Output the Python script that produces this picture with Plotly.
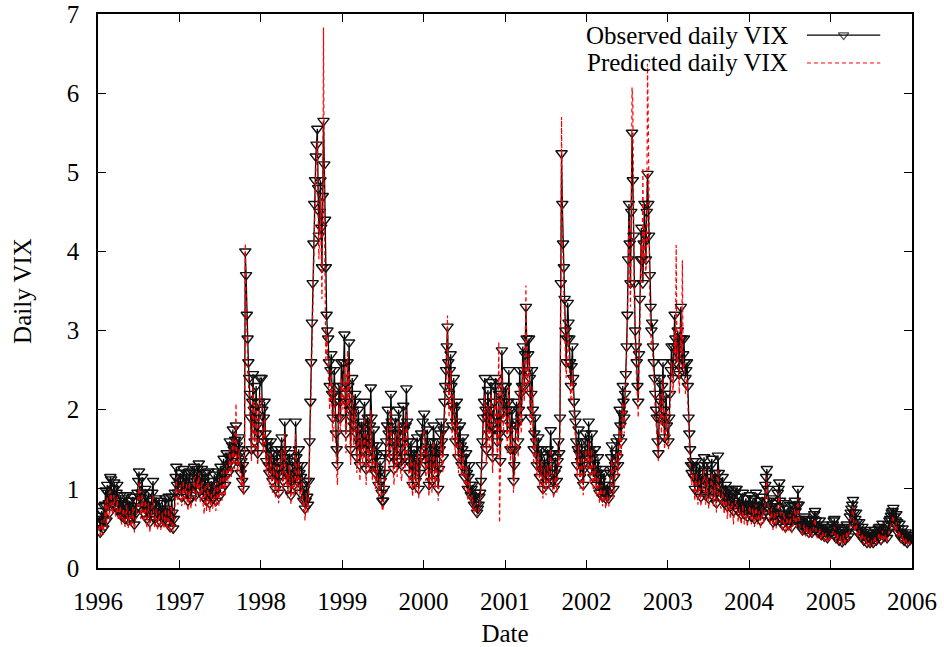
import pandas as pd
import plotly.graph_objects as go

# Observed daily VIX, read twice a week, one list per calendar year
observed_1996 = [0.58, 0.66, 0.45, 0.55, 0.72, 0.62, 0.5, 0.78, 0.8, 0.98,
                 0.6, 1.05, 0.95, 0.82, 0.7, 1.15, 1.12, 0.9, 0.8, 1.0,
                 1.08, 0.85, 0.78, 0.95, 1.05, 0.75, 0.72, 0.85, 0.92, 0.7,
                 0.65, 0.82, 0.88, 0.68, 0.62, 0.8, 0.92, 0.72, 0.6, 0.75,
                 0.85, 0.65, 0.62, 0.78, 0.9, 0.7, 0.55, 0.68, 0.75, 0.85,
                 0.95, 1.1, 1.22, 0.9, 0.75, 0.95, 1.15, 0.85, 0.7, 0.8,
                 1.0, 0.75, 0.62, 0.78, 0.95, 0.7, 0.58, 0.72, 0.85, 0.95,
                 1.1, 0.8, 0.62, 0.75, 0.88, 0.7, 0.58, 0.72, 0.85, 0.68,
                 0.58, 0.7, 0.82, 0.65, 0.6, 0.75, 0.88, 0.7, 0.58, 0.72,
                 0.9, 0.65, 0.52, 0.62, 0.9, 0.7, 0.5, 0.62, 0.95, 1.15,
                 1.28, 1.05, 0.95, 1.1]
observed_1997 = [1.2, 1.0, 0.9, 1.1, 1.25, 1.05, 0.95, 1.15, 1.2, 0.98,
                 0.85, 1.05, 1.22, 1.0, 0.88, 1.05, 1.1, 1.2, 1.28, 1.05,
                 0.92, 1.1, 1.25, 1.15, 1.32, 1.1, 0.98, 1.15, 1.25, 1.0,
                 0.9, 1.1, 1.2, 0.95, 0.85, 1.0, 1.22, 1.02, 0.82, 0.95,
                 1.1, 0.95, 0.88, 1.05, 1.18, 0.95, 0.85, 1.0, 1.22, 1.05,
                 0.9, 1.12, 1.28, 1.1, 1.0, 1.2, 1.38, 1.15, 1.05, 1.25,
                 1.45, 1.3, 1.2, 1.4, 1.6, 1.42, 1.3, 1.55, 1.75, 1.5,
                 1.4, 1.62, 1.8, 1.55, 1.35, 1.5, 1.65, 1.45, 1.2, 1.35,
                 1.1, 1.3, 1.0, 1.45, 4.0, 3.7, 3.2, 2.9, 2.6, 2.4,
                 2.2, 1.9, 1.5, 2.1, 2.45, 2.0, 1.6, 1.9, 2.3, 1.8,
                 1.45, 1.7, 2.1, 2.4]
observed_1998 = [2.4, 2.0, 1.6, 1.9, 2.1, 1.7, 1.35, 1.6, 1.55, 1.3,
                 1.2, 1.45, 1.6, 1.3, 1.1, 1.35, 1.45, 1.2, 1.0, 1.25,
                 1.5, 1.2, 0.95, 1.15, 1.35, 1.5, 1.65, 1.3, 1.1, 1.4,
                 1.85, 1.5, 1.2, 1.35, 1.0, 1.2, 1.45, 1.15, 0.92, 1.1,
                 1.35, 1.15, 1.05, 1.3, 1.85, 1.4, 1.1, 1.3, 1.5, 1.2,
                 0.95, 1.15, 1.3, 1.05, 0.85, 1.0, 0.75, 0.85, 1.1, 0.9,
                 0.8, 1.1, 1.6, 2.1, 2.6, 3.1, 3.6, 4.1, 4.6, 4.9,
                 5.2, 5.35, 5.55, 4.8, 4.2, 4.5, 4.9, 4.3, 3.8, 4.7,
                 5.65, 5.1, 4.4, 3.8, 3.2, 3.0, 2.9, 2.6, 2.3, 2.5,
                 2.7, 2.2, 1.9, 2.2, 2.5, 2.1, 1.7, 1.5, 1.3, 1.9,
                 2.3, 2.1, 1.9, 2.6]
observed_1999 = [2.3, 2.6, 2.95, 2.2, 1.7, 2.1, 2.6, 2.3, 2.85, 2.0,
                 1.5, 1.9, 2.4, 2.0, 1.8, 2.1, 2.2, 1.7, 1.4, 1.75,
                 2.0, 1.6, 1.3, 1.55, 1.85, 1.6, 1.5, 1.8, 2.1, 1.7,
                 1.25, 1.55, 1.9, 1.65, 1.4, 1.8, 2.28, 1.9, 1.3, 1.55,
                 1.75, 1.45, 1.2, 1.4, 1.55, 1.25, 1.05, 1.2, 1.35, 1.1,
                 0.95, 0.85, 0.85, 1.0, 1.2, 1.45, 1.6, 1.8, 2.0, 1.7,
                 1.4, 1.75, 2.2, 1.85, 1.6, 1.4, 1.25, 1.55, 1.9, 1.6,
                 1.35, 1.7, 2.0, 1.75, 1.5, 1.35, 1.3, 1.6, 2.05, 1.75,
                 1.4, 1.8, 2.27, 1.85, 1.6, 1.35, 1.2, 1.45, 1.6, 1.3,
                 1.05, 1.3, 1.5, 1.25, 1.1, 1.4, 1.65, 1.35, 1.0, 1.2,
                 1.4, 1.7, 1.5, 1.85]
observed_2000 = [1.95, 1.6, 1.3, 1.5, 1.75, 1.4, 1.05, 1.3, 1.6, 1.35,
                 1.1, 1.4, 1.8, 1.5, 1.2, 1.45, 1.6, 1.3, 1.0, 1.25,
                 1.5, 1.7, 1.85, 1.6, 1.4, 1.75, 2.1, 2.3, 2.5, 2.8,
                 3.05, 2.6, 2.2, 2.5, 2.7, 2.3, 1.8, 2.05, 2.4, 2.0,
                 1.6, 1.85, 2.1, 1.75, 1.4, 1.6, 1.8, 1.55, 1.3, 1.5,
                 1.65, 1.4, 1.15, 1.3, 1.45, 1.2, 1.0, 1.15, 1.3, 1.05,
                 0.92, 1.0, 1.05, 0.88, 0.8, 0.9, 0.95, 0.8, 0.7, 0.75,
                 0.8, 0.9, 0.95, 1.1, 1.3, 1.6, 1.9, 2.1, 2.4, 2.0,
                 1.5, 1.9, 2.25, 1.95, 1.7, 2.0, 2.35, 1.8, 1.4, 1.75,
                 2.1, 2.3, 2.4, 1.9, 1.6, 1.9, 2.2, 1.7, 1.35, 2.2,
                 2.75, 2.3, 1.9, 2.1]
observed_2001 = [2.3, 2.0, 1.7, 2.1, 2.5, 2.0, 1.5, 1.8, 2.0, 1.5,
                 1.1, 1.3, 1.5, 1.8, 2.1, 1.85, 1.6, 2.0, 2.5, 2.2,
                 1.9, 2.3, 2.8, 2.5, 2.3, 2.7, 3.3, 2.9, 2.5, 2.7,
                 2.9, 2.4, 1.9, 2.2, 2.5, 2.0, 1.5, 1.7, 1.9, 1.6,
                 1.3, 1.5, 1.65, 1.4, 1.15, 1.3, 1.5, 1.25, 1.0, 1.2,
                 1.4, 1.2, 1.05, 1.25, 1.5, 1.3, 1.15, 1.45, 1.74, 1.45,
                 1.2, 1.1, 1.0, 1.2, 1.4, 1.25, 1.1, 1.35, 1.6, 1.45,
                 1.9, 3.6, 5.24, 4.6, 4.1, 3.8, 3.4, 3.0, 2.6, 2.9,
                 3.35, 3.1, 2.9, 2.6, 2.3, 2.55, 2.8, 2.4, 2.1, 1.95,
                 1.85, 1.6, 1.3, 1.5, 1.75, 1.45, 1.15, 1.35, 1.6, 1.3,
                 1.05, 1.25, 1.45, 1.7]
observed_2002 = [1.6, 1.4, 1.85, 1.5, 1.25, 1.45, 1.7, 1.4, 1.15, 1.3,
                 1.5, 1.25, 1.05, 1.2, 1.4, 1.15, 0.95, 1.1, 1.25, 1.0,
                 0.9, 1.05, 1.2, 0.98, 0.88, 0.95, 1.05, 0.92, 0.88, 1.0,
                 1.2, 1.4, 1.55, 1.25, 1.0, 1.15, 1.3, 1.45, 1.6, 1.4,
                 1.3, 1.65, 2.0, 1.8, 1.6, 1.95, 2.3, 2.1, 1.9, 2.2,
                 2.45, 2.8, 3.2, 3.9, 4.6, 4.1, 3.6, 4.5, 5.5, 4.9,
                 4.2, 3.6, 3.0, 2.8, 2.6, 2.3, 2.1, 2.7, 3.4, 3.9,
                 4.3, 3.9, 3.6, 4.1, 4.6, 4.2, 3.9, 4.5, 4.98, 4.6,
                 4.2, 3.7, 3.3, 3.0, 3.1, 2.8, 2.6, 2.4, 2.2, 2.0,
                 1.9, 1.6, 1.45, 1.9, 2.4, 2.1, 1.9, 2.3, 2.6, 2.0,
                 1.65, 1.9, 2.2, 1.8]
observed_2003 = [1.6, 1.9, 2.2, 2.5, 2.8, 2.6, 2.4, 2.8, 3.2, 2.9,
                 2.6, 2.8, 3.0, 2.7, 2.45, 2.9, 3.3, 2.9, 2.5, 2.7,
                 2.9, 2.6, 2.4, 2.5, 2.6, 2.3, 1.9, 1.7, 1.5, 1.3,
                 1.2, 1.3, 1.35, 1.15, 1.0, 1.2, 1.35, 1.1, 0.95, 1.15,
                 1.3, 1.1, 0.9, 1.05, 1.2, 1.3, 1.4, 1.1, 0.92, 1.1,
                 1.3, 1.05, 0.88, 1.0, 1.15, 1.3, 1.38, 1.1, 0.9, 1.05,
                 1.2, 1.0, 0.82, 1.1, 1.42, 1.2, 1.0, 0.9, 0.88, 1.0,
                 1.15, 0.95, 0.82, 0.95, 1.05, 0.9, 0.78, 0.9, 1.0, 0.85,
                 0.78, 0.9, 0.98, 0.82, 0.72, 0.85, 0.95, 1.0, 1.0, 0.82,
                 0.72, 0.8, 0.9, 0.78, 0.68, 0.8, 0.95, 0.8, 0.68, 0.78,
                 0.88, 0.75, 0.65, 0.8]
observed_2004 = [0.92, 0.78, 0.65, 0.75, 0.88, 0.72, 0.62, 0.78, 0.95, 0.8,
                 0.65, 0.72, 0.85, 0.7, 0.6, 0.75, 0.9, 0.78, 0.68, 0.85,
                 1.05, 1.15, 1.25, 1.0, 0.85, 0.75, 0.65, 0.78, 0.88, 0.7,
                 0.58, 0.7, 0.82, 0.68, 0.6, 0.78, 0.95, 1.0, 1.08, 0.85,
                 0.7, 0.62, 0.55, 0.68, 0.82, 0.65, 0.52, 0.62, 0.75, 0.62,
                 0.55, 0.68, 0.8, 0.65, 0.52, 0.6, 0.72, 0.78, 0.85, 0.72,
                 0.62, 0.8, 1.0, 0.8, 0.62, 0.58, 0.55, 0.5, 0.48, 0.56,
                 0.65, 0.55, 0.48, 0.55, 0.62, 0.52, 0.45, 0.52, 0.6, 0.5,
                 0.45, 0.55, 0.62, 0.68, 0.72, 0.6, 0.5, 0.46, 0.45, 0.52,
                 0.6, 0.5, 0.42, 0.48, 0.55, 0.46, 0.4, 0.46, 0.52, 0.44,
                 0.38, 0.42, 0.48, 0.44]
observed_2005 = [0.45, 0.5, 0.55, 0.6, 0.62, 0.5, 0.38, 0.45, 0.52, 0.42,
                 0.35, 0.42, 0.48, 0.4, 0.33, 0.42, 0.5, 0.42, 0.36, 0.45,
                 0.55, 0.46, 0.4, 0.52, 0.65, 0.7, 0.75, 0.8, 0.86, 0.7,
                 0.55, 0.62, 0.7, 0.58, 0.45, 0.52, 0.58, 0.48, 0.4, 0.46,
                 0.52, 0.42, 0.35, 0.42, 0.48, 0.4, 0.32, 0.38, 0.45, 0.38,
                 0.32, 0.36, 0.42, 0.36, 0.32, 0.4, 0.48, 0.4, 0.35, 0.4,
                 0.45, 0.5, 0.52, 0.44, 0.36, 0.46, 0.56, 0.48, 0.4, 0.45,
                 0.5, 0.44, 0.38, 0.46, 0.55, 0.6, 0.62, 0.66, 0.7, 0.72,
                 0.76, 0.65, 0.55, 0.6, 0.68, 0.58, 0.45, 0.5, 0.56, 0.46,
                 0.38, 0.44, 0.5, 0.42, 0.35, 0.4, 0.45, 0.38, 0.32, 0.38,
                 0.42, 0.38, 0.36, 0.4]

# Predicted daily VIX, read twice a week, one list per calendar year
predicted_1996 = [0.48, 0.55, 0.38, 0.45, 0.6, 0.52, 0.42, 0.65, 0.68, 0.85,
                  0.5, 0.9, 0.82, 0.7, 0.6, 0.98, 0.95, 0.75, 0.68, 0.85,
                  0.92, 0.72, 0.65, 0.8, 0.9, 0.62, 0.6, 0.72, 0.78, 0.58,
                  0.55, 0.7, 0.75, 0.56, 0.52, 0.68, 0.8, 0.6, 0.5, 0.62,
                  0.72, 0.55, 0.52, 0.66, 0.78, 0.58, 0.45, 0.56, 0.62, 0.72,
                  0.8, 0.95, 1.1, 0.75, 0.62, 0.8, 0.98, 0.7, 0.58, 0.68,
                  0.85, 0.62, 0.5, 0.65, 0.82, 0.58, 0.45, 0.6, 0.72, 0.8,
                  0.92, 0.65, 0.5, 0.62, 0.75, 0.58, 0.48, 0.6, 0.72, 0.55,
                  0.48, 0.58, 0.7, 0.52, 0.5, 0.62, 0.75, 0.58, 0.48, 0.6,
                  0.78, 0.52, 0.45, 0.52, 0.78, 0.58, 0.45, 0.52, 0.82, 1.0,
                  1.15, 0.9, 0.8, 0.95]
predicted_1997 = [1.05, 0.85, 0.78, 0.95, 1.1, 0.9, 0.8, 1.0, 1.05, 0.82,
                  0.72, 0.9, 1.08, 0.85, 0.75, 0.9, 0.95, 1.05, 1.15, 0.9,
                  0.78, 0.95, 1.1, 1.0, 1.2, 0.95, 0.82, 1.0, 1.1, 0.85,
                  0.75, 0.68, 1.05, 0.8, 0.72, 0.85, 1.08, 0.88, 0.7, 0.8,
                  0.95, 0.8, 0.75, 0.9, 1.05, 0.8, 0.72, 0.85, 1.08, 0.9,
                  0.78, 0.98, 1.15, 0.95, 0.85, 1.05, 1.25, 1.0, 0.9, 1.1,
                  1.3, 1.15, 1.05, 1.25, 1.5, 1.3, 1.15, 1.4, 1.65, 1.35,
                  1.25, 1.5, 2.08, 1.4, 1.2, 1.35, 1.5, 1.3, 1.05, 1.2,
                  0.98, 1.15, 0.92, 1.3, 4.1, 3.4, 2.9, 2.6, 2.35, 2.15,
                  1.95, 1.7, 1.35, 1.9, 2.3, 1.8, 1.45, 1.7, 2.1, 1.6,
                  1.3, 1.5, 1.95, 2.2]
predicted_1998 = [2.2, 1.8, 1.45, 1.7, 1.9, 1.5, 1.2, 1.45, 1.4, 1.15,
                  1.05, 1.3, 1.45, 1.15, 0.95, 1.2, 1.3, 1.05, 0.88, 1.1,
                  1.35, 1.05, 0.82, 1.0, 1.2, 1.35, 1.5, 1.15, 0.95, 1.25,
                  1.7, 1.35, 1.05, 1.2, 0.88, 1.05, 1.3, 1.0, 0.8, 0.95,
                  1.2, 1.0, 0.9, 1.15, 1.7, 1.25, 0.95, 1.15, 1.35, 1.05,
                  0.82, 1.0, 1.15, 0.9, 0.72, 0.85, 0.6, 0.72, 0.95, 0.78,
                  0.7, 0.95, 1.45, 1.9, 2.4, 2.9, 3.3, 3.8, 4.4, 4.7,
                  5.0, 5.2, 5.4, 4.5, 3.9, 4.2, 4.7, 4.0, 3.4, 4.5,
                  6.83, 4.6, 3.9, 2.6, 3.0, 2.7, 2.5, 2.3, 2.0, 2.3,
                  2.5, 1.95, 1.6, 2.0, 2.3, 1.85, 1.45, 1.2, 1.05, 1.7,
                  2.1, 1.85, 1.7, 2.4]
predicted_1999 = [2.0, 2.4, 2.6, 1.95, 1.45, 1.85, 2.75, 2.05, 2.5, 1.8,
                  1.3, 1.7, 2.2, 1.8, 1.55, 1.9, 2.0, 1.5, 1.2, 1.55,
                  1.8, 1.4, 1.1, 1.35, 1.65, 1.4, 1.3, 1.6, 1.9, 1.5,
                  1.05, 1.35, 1.7, 1.45, 1.2, 1.6, 2.0, 1.7, 1.1, 1.35,
                  1.55, 1.25, 1.0, 1.2, 1.35, 1.05, 0.9, 1.05, 1.15, 0.95,
                  0.8, 0.72, 0.75, 0.88, 1.05, 1.3, 1.4, 1.6, 1.8, 1.5,
                  1.2, 1.55, 2.0, 1.65, 1.4, 1.2, 1.05, 1.35, 1.7, 1.4,
                  1.15, 1.5, 1.85, 1.55, 1.3, 1.15, 1.1, 1.4, 1.8, 1.55,
                  1.2, 1.6, 2.0, 1.65, 1.4, 1.15, 1.0, 1.25, 1.4, 1.1,
                  0.9, 1.1, 1.35, 1.05, 0.95, 1.2, 1.45, 1.15, 0.88, 1.05,
                  1.25, 1.5, 1.3, 1.65]
predicted_2000 = [1.75, 1.4, 1.1, 1.3, 1.55, 1.2, 0.9, 1.1, 1.4, 1.15,
                  0.95, 1.2, 1.6, 1.3, 1.0, 1.25, 1.4, 1.1, 0.85, 1.05,
                  1.35, 1.5, 1.7, 1.4, 1.2, 1.55, 1.9, 2.1, 2.3, 2.6,
                  3.19, 2.4, 1.9, 2.3, 2.5, 2.0, 1.6, 1.85, 2.2, 1.8,
                  1.4, 1.65, 1.9, 1.55, 1.2, 1.4, 1.6, 1.35, 1.15, 1.3,
                  1.45, 1.2, 1.0, 1.15, 1.3, 1.05, 0.85, 1.0, 1.15, 0.9,
                  0.8, 0.88, 0.92, 0.75, 0.7, 0.78, 0.82, 0.7, 0.65, 0.68,
                  0.72, 0.8, 0.85, 0.98, 1.15, 1.45, 1.7, 1.9, 2.2, 1.8,
                  1.3, 1.7, 2.05, 1.75, 1.5, 1.8, 2.2, 1.6, 1.2, 1.55,
                  1.9, 2.1, 2.2, 1.7, 1.4, 1.7, 2.86, 0.57, 1.2, 2.0,
                  2.5, 2.1, 1.7, 1.9]
predicted_2001 = [2.0, 1.8, 1.45, 1.9, 2.3, 1.8, 1.3, 1.6, 1.8, 1.3,
                  0.95, 1.15, 1.3, 1.6, 1.9, 1.65, 1.4, 1.8, 2.3, 2.0,
                  1.7, 2.1, 2.6, 2.2, 2.1, 2.5, 3.57, 2.6, 2.2, 2.5,
                  2.7, 2.2, 1.7, 2.0, 2.3, 1.8, 1.3, 1.5, 1.7, 1.4,
                  1.15, 1.3, 1.45, 1.2, 1.0, 1.15, 1.35, 1.1, 0.88, 1.05,
                  1.25, 1.05, 0.92, 1.1, 1.3, 1.15, 1.0, 1.3, 1.5, 1.3,
                  1.05, 0.95, 0.88, 1.05, 1.2, 1.1, 0.95, 1.2, 1.4, 1.3,
                  1.7, 3.3, 5.7, 4.3, 3.8, 3.5, 3.1, 2.7, 2.4, 2.6,
                  3.1, 2.8, 2.6, 2.4, 2.1, 2.3, 2.5, 2.2, 1.85, 1.75,
                  1.65, 1.4, 1.15, 1.35, 1.55, 1.3, 1.0, 1.2, 1.4, 1.15,
                  0.92, 1.1, 1.25, 1.5]
predicted_2002 = [1.4, 1.25, 1.6, 1.3, 1.05, 1.3, 1.5, 1.2, 0.98, 1.15,
                  1.3, 1.1, 0.9, 1.05, 1.2, 1.0, 0.82, 0.95, 1.05, 0.85,
                  0.78, 0.9, 1.0, 0.85, 0.75, 0.82, 0.92, 0.8, 0.78, 0.88,
                  1.05, 1.25, 1.4, 1.1, 0.88, 1.0, 1.15, 1.3, 1.45, 1.25,
                  1.15, 1.5, 1.8, 1.6, 1.4, 1.75, 2.1, 1.9, 1.7, 2.0,
                  2.3, 2.6, 3.0, 3.7, 4.4, 3.8, 3.3, 4.3, 6.07, 5.9,
                  4.0, 3.3, 2.8, 2.6, 2.4, 2.1, 1.9, 2.5, 3.2, 3.7,
                  4.1, 3.6, 5.06, 3.9, 4.3, 3.9, 3.7, 4.2, 6.37, 5.6,
                  3.9, 3.4, 3.0, 2.8, 2.9, 2.6, 2.4, 2.2, 2.0, 1.8,
                  1.7, 1.45, 1.35, 1.7, 2.2, 1.9, 1.7, 2.1, 2.4, 1.8,
                  1.5, 1.7, 2.0, 1.65]
predicted_2003 = [1.5, 1.75, 2.0, 2.3, 2.6, 2.4, 2.2, 2.6, 3.0, 2.7,
                  4.08, 2.6, 2.8, 2.5, 2.2, 2.6, 3.1, 2.7, 3.89, 2.5,
                  2.6, 2.4, 2.2, 2.3, 2.4, 2.1, 1.7, 1.5, 1.3, 1.15,
                  1.05, 1.15, 1.2, 1.0, 0.85, 1.05, 1.2, 0.95, 0.8, 1.0,
                  1.12, 0.95, 0.78, 0.9, 1.05, 1.15, 1.25, 0.95, 0.8, 0.95,
                  1.15, 0.9, 0.75, 0.85, 1.0, 1.15, 1.2, 0.95, 0.78, 0.9,
                  1.05, 0.85, 0.7, 0.95, 1.25, 1.05, 0.85, 0.78, 0.75, 0.85,
                  1.0, 0.8, 0.68, 0.8, 0.9, 0.78, 0.62, 0.75, 0.85, 0.72,
                  0.62, 0.75, 0.82, 0.7, 0.55, 0.7, 0.8, 0.85, 0.85, 0.68,
                  0.58, 0.68, 0.75, 0.62, 0.55, 0.65, 0.8, 0.65, 0.55, 0.62,
                  0.72, 0.6, 0.52, 0.65]
predicted_2004 = [0.78, 0.65, 0.55, 0.62, 0.75, 0.6, 0.52, 0.65, 0.8, 0.68,
                  0.55, 0.6, 0.72, 0.58, 0.5, 0.62, 0.75, 0.65, 0.56, 0.72,
                  0.9, 1.0, 1.15, 0.85, 0.72, 0.62, 0.55, 0.66, 0.75, 0.58,
                  0.48, 0.6, 0.7, 0.56, 0.5, 0.66, 0.82, 0.88, 0.95, 0.72,
                  0.58, 0.52, 0.46, 0.56, 0.7, 0.54, 0.44, 0.52, 0.64, 0.52,
                  0.46, 0.56, 0.68, 0.54, 0.44, 0.5, 0.6, 0.66, 0.75, 0.6,
                  0.52, 0.68, 0.88, 0.68, 0.52, 0.48, 0.46, 0.42, 0.4, 0.46,
                  0.55, 0.46, 0.4, 0.46, 0.52, 0.44, 0.38, 0.44, 0.5, 0.42,
                  0.38, 0.46, 0.52, 0.58, 0.62, 0.5, 0.42, 0.38, 0.38, 0.44,
                  0.5, 0.42, 0.35, 0.4, 0.46, 0.38, 0.34, 0.38, 0.44, 0.36,
                  0.32, 0.35, 0.4, 0.36]
predicted_2005 = [0.38, 0.42, 0.46, 0.5, 0.52, 0.42, 0.32, 0.38, 0.44, 0.35,
                  0.3, 0.35, 0.4, 0.34, 0.28, 0.35, 0.42, 0.35, 0.3, 0.38,
                  0.46, 0.38, 0.34, 0.44, 0.55, 0.6, 0.65, 0.7, 0.78, 0.6,
                  0.46, 0.52, 0.6, 0.48, 0.38, 0.44, 0.48, 0.4, 0.34, 0.38,
                  0.44, 0.35, 0.3, 0.35, 0.4, 0.34, 0.27, 0.32, 0.38, 0.32,
                  0.27, 0.3, 0.35, 0.3, 0.27, 0.34, 0.4, 0.34, 0.3, 0.34,
                  0.38, 0.42, 0.44, 0.37, 0.3, 0.38, 0.47, 0.4, 0.34, 0.38,
                  0.42, 0.37, 0.32, 0.38, 0.46, 0.5, 0.52, 0.56, 0.6, 0.62,
                  0.66, 0.55, 0.46, 0.5, 0.58, 0.48, 0.38, 0.42, 0.47, 0.38,
                  0.32, 0.37, 0.42, 0.35, 0.3, 0.34, 0.38, 0.32, 0.28, 0.32,
                  0.35, 0.32, 0.3, 0.34]

years = list(range(1996, 2006))
observed_by_year = [observed_1996, observed_1997, observed_1998, observed_1999, observed_2000,
                    observed_2001, observed_2002, observed_2003, observed_2004, observed_2005]
predicted_by_year = [predicted_1996, predicted_1997, predicted_1998, predicted_1999, predicted_2000,
                     predicted_2001, predicted_2002, predicted_2003, predicted_2004, predicted_2005]

tick_years = list(range(1996, 2007))
tick_labels = [str(y) for y in tick_years]


def spread_over_years(series_by_year):
    """Place each year's readings evenly across that calendar year."""
    xs, ys = [], []
    for yr, vals in zip(years, series_by_year):
        xs.extend(pd.date_range(f"{yr}-01-04", f"{yr}-12-28", periods=len(vals)))
        ys.extend(vals)
    return xs, ys


obs_dates, observed = spread_over_years(observed_by_year)
pred_dates, predicted = spread_over_years(predicted_by_year)

FONT = "Liberation Serif, Times New Roman, serif"

fig = go.Figure()
fig.add_trace(go.Scatter(
    x=obs_dates, y=observed, mode="lines+markers", name="Observed daily VIX",
    line=dict(color="black", width=1.3),
    marker=dict(symbol="triangle-down-open", size=10, color="#111111", line=dict(width=1.4)),
    showlegend=False,
))
fig.add_trace(go.Scatter(
    x=pred_dates, y=predicted, mode="lines", name="Predicted daily VIX",
    line=dict(color="#ff0000", width=1.2, dash="4px,3px"),
    showlegend=False,
))

# Key: gnuplot-style entries with the label to the left of the sample
key_x0, key_x1 = 0.871, 0.961
key_rows = [0.962, 0.9116]
fig.add_trace(go.Scatter(
    x=[key_x0, (key_x0 + key_x1) / 2, key_x1], y=[key_rows[0]] * 3,
    xaxis="x2", yaxis="y2", mode="lines+markers",
    line=dict(color="black", width=1.2),
    marker=dict(symbol="triangle-down-open", size=[0, 9, 0], color="black", line=dict(width=1.2)),
    showlegend=False, hoverinfo="skip",
))
fig.add_trace(go.Scatter(
    x=[key_x0, key_x1], y=[key_rows[1]] * 2,
    xaxis="x2", yaxis="y2", mode="lines",
    line=dict(color="#ff0000", width=1, dash="4px,3px"),
    showlegend=False, hoverinfo="skip",
))
for text, yk in zip(["Observed daily VIX", "Predicted daily VIX"], key_rows):
    fig.add_annotation(x=0.850, y=yk, xref="paper", yref="paper", text=text,
                       showarrow=False, xanchor="right", yanchor="middle",
                       font=dict(family=FONT, size=25, color="black"))

axis_common = dict(
    showline=True, linecolor="black", linewidth=1.5, mirror="allticks",
    ticks="inside", ticklen=8, tickwidth=1.2, tickcolor="black",
    showgrid=False, zeroline=False, automargin=False,
    tickfont=dict(family=FONT, size=25, color="black"),
)

fig.update_layout(
    width=944, height=647,
    margin=dict(l=98, r=32, t=14, b=79),
    paper_bgcolor="white", plot_bgcolor="white",
    font=dict(family=FONT, size=25, color="black"),
    xaxis=dict(
        type="date", range=["1996-01-01", "2006-01-01"],
        tickvals=[f"{y}-01-01" for y in tick_years], ticktext=tick_labels,
        title=dict(text="Date", font=dict(family=FONT, size=25), standoff=14),
        ticklabelstandoff=10,
        **axis_common,
    ),
    yaxis=dict(
        range=[0, 7], tickvals=list(range(0, 8)),
        title=dict(text="Daily VIX", font=dict(family=FONT, size=25), standoff=28),
        ticklabelstandoff=12,
        **axis_common,
    ),
    xaxis2=dict(overlaying="x", range=[0, 1], visible=False),
    yaxis2=dict(overlaying="y", range=[0, 1], visible=False),
)

fig.write_html("out.html")
